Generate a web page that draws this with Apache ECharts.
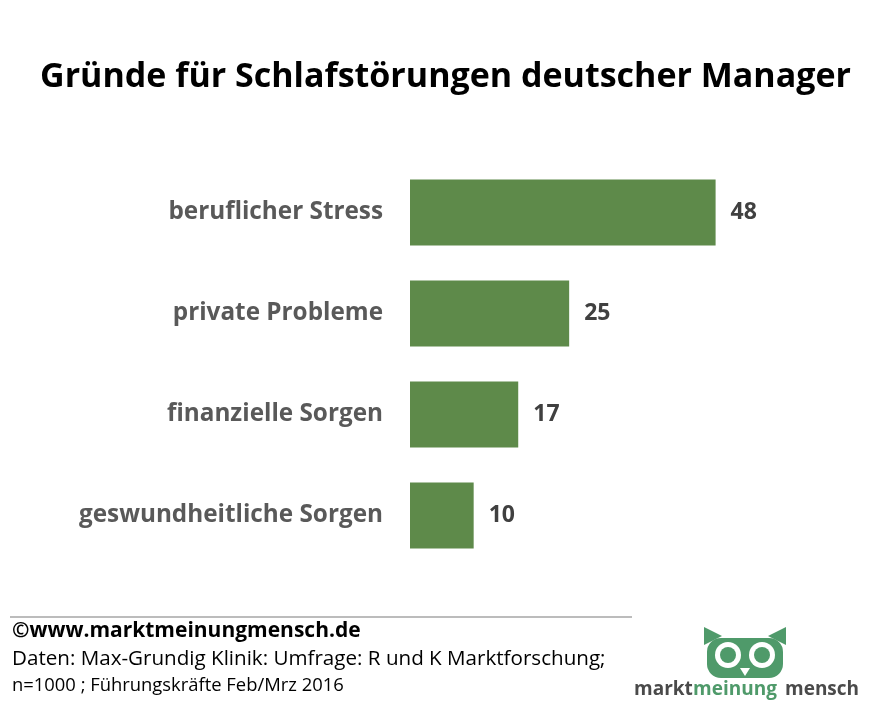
<!DOCTYPE html>
<html>
<head>
<meta charset="utf-8">
<script src="https://cdn.jsdelivr.net/npm/echarts@6/dist/echarts.min.js"></script>
<style>html,body{margin:0;padding:0;background:#fff}#chart{width:891px;height:714px}</style>
</head>
<body>
<div id="chart"></div>
<script>
var categories = ['beruflicher Stress', 'private Probleme', 'finanzielle Sorgen', 'geswundheitliche Sorgen'];
var values = [48, 25, 17, 10];

var green = '#5e8a4a';
var owl = '#4f9a6a';
var font = 'Open Sans';

var chart = echarts.init(document.getElementById('chart'));
chart.setOption({
    animation: false,
    textStyle: { fontFamily: font },
    title: {
        text: 'Gründe für Schlafstörungen deutscher Manager',
        left: 'center', top: 55,
        textStyle: { fontSize: 34, fontWeight: 'bold', color: '#000', fontFamily: font }
    },
    grid: { left: 410, right: 99, top: 162, bottom: 148 },
    xAxis: { type: 'value', min: 0, max: 60, show: false },
    yAxis: {
        type: 'category', data: categories, inverse: true,
        axisLine: { show: false }, axisTick: { show: false },
        axisLabel: { fontSize: 24.3, fontWeight: 'bold', color: '#595959', margin: 27 }
    },
    series: [{
        type: 'bar', data: values, barWidth: 66, itemStyle: { color: green },
        label: { show: true, position: 'right', distance: 15, fontSize: 23, fontWeight: 'bold', color: '#404040' }
    }],
    graphic: [
        { type: 'line', shape: { x1: 10, y1: 617, x2: 632, y2: 617 }, style: { stroke: '#a6a6a6', lineWidth: 1.5 } },
        { type: 'text', left: 12, top: 621, style: { text: '©www.marktmeinungmensch.de', fontSize: 21, fontWeight: 'bold', fill: '#000', fontFamily: font } },
        { type: 'text', left: 12, top: 649, style: { text: 'Daten: Max-Grundig Klinik: Umfrage: R und K Marktforschung;', fontSize: 20.6, fill: '#000', fontFamily: font } },
        { type: 'text', left: 12, top: 677, style: { text: 'n=1000 ; Führungskräfte Feb/Mrz 2016', fontSize: 18.4, fill: '#000', fontFamily: font } },
        // owl logo
        { type: 'rect', shape: { x: 707, y: 638, width: 76, height: 40, r: 14 }, style: { fill: owl } },
        { type: 'polygon', shape: { points: [[704, 645], [704, 627], [722, 636]] }, style: { fill: owl } },
        { type: 'polygon', shape: { points: [[786, 645], [786, 627], [768, 636]] }, style: { fill: owl } },
        { type: 'circle', shape: { cx: 728, cy: 655, r: 13 }, style: { fill: '#fff' } },
        { type: 'circle', shape: { cx: 762, cy: 655, r: 13 }, style: { fill: '#fff' } },
        { type: 'circle', shape: { cx: 728, cy: 655, r: 8 }, style: { fill: owl } },
        { type: 'circle', shape: { cx: 762, cy: 655, r: 8 }, style: { fill: owl } },
        { type: 'polygon', shape: { points: [[740, 668], [750, 668], [745, 676]] }, style: { fill: '#fff' } },
        { type: 'text', left: 634, top: 680, style: { text: 'markt', fontSize: 19, fontWeight: 'bold', fill: '#4a4a4a', fontFamily: font } },
        { type: 'text', left: 693, top: 680, style: { text: 'meinung', fontSize: 19, fontWeight: 'bold', fill: owl, fontFamily: font } },
        { type: 'text', left: 785, top: 680, style: { text: 'mensch', fontSize: 19, fontWeight: 'bold', fill: '#4a4a4a', fontFamily: font } }
    ]
});
</script>
</body>
</html>
